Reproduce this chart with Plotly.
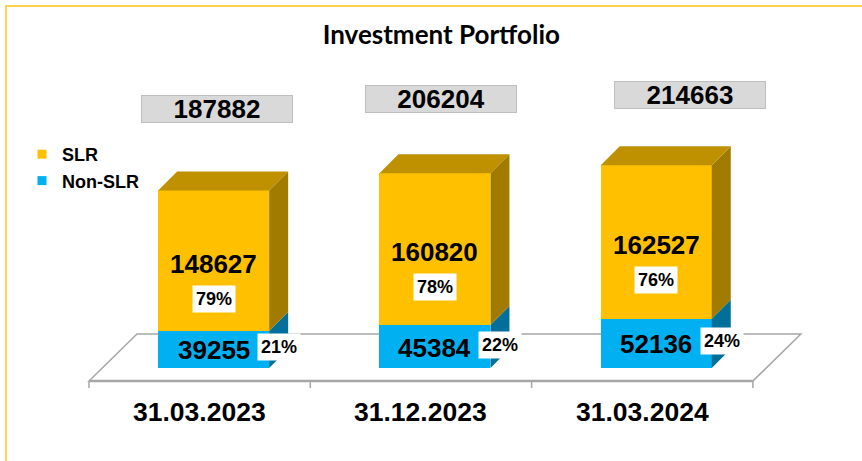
import plotly.graph_objects as go

# ---------------- data ----------------
categories = ["31.03.2023", "31.12.2023", "31.03.2024"]
slr = [148627, 160820, 162527]
non_slr = [39255, 45384, 52136]
series_names = ["SLR", "Non-SLR"]
chart_title = "Investment Portfolio"

totals = [a + b for a, b in zip(slr, non_slr)]
pct_slr = [round(100 * a / t) for a, t in zip(slr, totals)]
pct_non = [100 - p for p in pct_slr]

# ---------------- style / layout constants ----------------
W, H = 862, 461
X0_PX, SLOT_PX = 89, 221.3          # pixel of x=-0.5, pixels per category slot
Y0_PX, Y_SCALE = 368, 0.000945      # pixel of value 0, pixels per value unit

SLR_FRONT, SLR_SIDE, SLR_TOP = "#FFC000", "#A17A00", "#BF9000"
NON_FRONT, NON_SIDE = "#00B0F0", "#006F9A"
FLOOR_LINE = "#A6A6A6"
FONT = "Liberation Sans, Arial, sans-serif"


def dx(px):
    return px / SLOT_PX


def dy(px):
    return px / Y_SCALE


x_range = [-0.5 - X0_PX / SLOT_PX, -0.5 + (W - X0_PX) / SLOT_PX]
y_range = [-(H - Y0_PX) / Y_SCALE, Y0_PX / Y_SCALE]

BAR_SHIFT = dx(14)
BAR_W = dx(111)
DEP_X, DEP_Y = dx(19), dy(19)
FLOOR_FRONT = -dy(13)
FLOOR_DX, FLOOR_DY = dx(48), dy(47)

n = len(categories)
xs = [i + BAR_SHIFT for i in range(n)]

fig = go.Figure()

# front faces
fig.add_trace(go.Bar(x=xs, y=non_slr, width=BAR_W, marker=dict(color=NON_FRONT, line_width=0),
                     showlegend=False, hoverinfo="skip"))
fig.add_trace(go.Bar(x=xs, y=slr, width=BAR_W, marker=dict(color=SLR_FRONT, line_width=0),
                     showlegend=False, hoverinfo="skip"))


def side_poly(x_right, y0, y1):
    return ([x_right, x_right + DEP_X, x_right + DEP_X, x_right, x_right, None],
            [y0, y0 + DEP_Y, y1 + DEP_Y, y1, y0, None])


# side faces
for vals_lo, vals_hi, col in ((None, non_slr, NON_SIDE), (non_slr, totals, SLR_SIDE)):
    px_, py_ = [], []
    for i in range(n):
        lo = 0 if vals_lo is None else vals_lo[i]
        a, b = side_poly(xs[i] + BAR_W / 2, lo, vals_hi[i])
        px_ += a
        py_ += b
    fig.add_trace(go.Scatter(x=px_, y=py_, mode="lines", fill="toself", fillcolor=col,
                             line=dict(width=0, color=col), showlegend=False, hoverinfo="skip"))

# top faces
tx, ty = [], []
for i in range(n):
    xl, xr, t = xs[i] - BAR_W / 2, xs[i] + BAR_W / 2, totals[i]
    tx += [xl, xl + DEP_X, xr + DEP_X, xr, xl, None]
    ty += [t, t + DEP_Y, t + DEP_Y, t, t, None]
fig.add_trace(go.Scatter(x=tx, y=ty, mode="lines", fill="toself", fillcolor=SLR_TOP,
                         line=dict(width=0, color=SLR_TOP), showlegend=False, hoverinfo="skip"))

# legend entries
for name, col in zip(series_names, (SLR_FRONT, NON_FRONT)):
    fig.add_trace(go.Scatter(x=[None], y=[None], mode="markers", name=f"<b>{name}</b>",
                             marker=dict(symbol="square", size=9, color=col)))

# floor (3D base)
fl, fr = -0.5, n - 0.5
floor_path = (f"M{fl},{FLOOR_FRONT} L{fl + FLOOR_DX},{FLOOR_FRONT + FLOOR_DY} "
              f"L{fr + FLOOR_DX},{FLOOR_FRONT + FLOOR_DY} L{fr},{FLOOR_FRONT} Z")
shapes = [dict(type="path", path=floor_path, xref="x", yref="y", layer="below",
               fillcolor="white", line=dict(color=FLOOR_LINE, width=1.5))]
shapes.append(dict(type="line", xref="x", yref="y", layer="below", x0=fl, x1=fr,
                   y0=FLOOR_FRONT, y1=FLOOR_FRONT, line=dict(color=FLOOR_LINE, width=2.5)))
for k in range(n + 1):
    xb = k - 0.5
    shapes.append(dict(type="line", xref="x", yref="y", layer="below", x0=xb, x1=xb,
                       y0=FLOOR_FRONT, y1=FLOOR_FRONT - dy(7), line=dict(color=FLOOR_LINE, width=1.5)))
# outer border
shapes.append(dict(type="rect", xref="paper", yref="paper", x0=6 / W, x1=1.05, y0=-0.05, y1=1 - 6 / H,
                   line=dict(color="#FFD24D", width=2), fillcolor="rgba(0,0,0,0)", layer="above"))

annotations = []
# category labels
for i, c in enumerate(categories):
    annotations.append(dict(x=i, y=FLOOR_FRONT - dy(31), xref="x", yref="y", text=f"<b>{c}</b>",
                            showarrow=False, font=dict(family=FONT, size=26.5, color="black")))
# value labels
box_nudge_x = [3, 6, 34]
box_gap = [81, 74, 70]
for i in range(n):
    annotations.append(dict(x=xs[i], y=non_slr[i] + slr[i] / 2 - dy(3), text=f"<b>{slr[i]}</b>",
                            showarrow=False, font=dict(family=FONT, size=26, color="black")))
    annotations.append(dict(x=xs[i], y=non_slr[i] / 2 - dy(1), text=f"<b>{non_slr[i]}</b>",
                            showarrow=False, font=dict(family=FONT, size=26, color="black")))
    annotations.append(dict(x=xs[i], y=non_slr[i] + slr[i] / 2 - dy(38), text=f"<b>{pct_slr[i]}%</b>",
                            showarrow=False, bgcolor="white", borderpad=3,
                            font=dict(family=FONT, size=18, color="black")))
    annotations.append(dict(x=xs[i] + BAR_W / 2 + dx(10), y=non_slr[i] / 2 + dy(2),
                            text=f"<b>{pct_non[i]}%</b>", showarrow=False, bgcolor="white", borderpad=3,
                            font=dict(family=FONT, size=18, color="black")))
    annotations.append(dict(x=xs[i] + dx(box_nudge_x[i]), y=totals[i] + dy(box_gap[i]),
                            text=f"<b>{totals[i]}</b>", showarrow=False, bgcolor="#D9D9D9",
                            bordercolor="#BFBFBF", borderwidth=1, width=148, height=24,
                            font=dict(family=FONT, size=26, color="black")))

fig.update_layout(
    width=W, height=H,
    margin=dict(l=0, r=0, t=0, b=0),
    paper_bgcolor="white", plot_bgcolor="rgba(0,0,0,0)",
    barmode="stack", bargap=0,
    title=dict(text=f"<b>{chart_title}</b>", x=0.512, xanchor="center", y=1 - 35 / H, yanchor="middle",
               font=dict(family="Lato, Calibri, sans-serif", size=26, color="black")),
    xaxis=dict(range=x_range, visible=False, fixedrange=True),
    yaxis=dict(range=y_range, visible=False, fixedrange=True),
    legend=dict(x=22 / W, y=1 - 136 / H, xanchor="left", yanchor="top", bgcolor="rgba(0,0,0,0)",
                font=dict(family=FONT, size=18, color="black"), traceorder="normal",
                itemwidth=30, tracegroupgap=0),
    shapes=shapes, annotations=annotations,
    showlegend=True,
)

fig.write_html("out.html", config={"displayModeBar": False},
               post_script="document.body.style.margin='0';document.body.style.overflow='hidden';")
